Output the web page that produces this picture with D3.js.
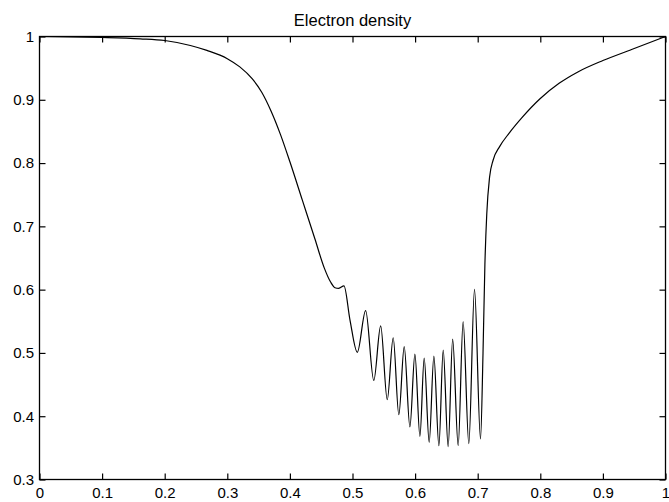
<!DOCTYPE html>
<html>
<head>
<meta charset="utf-8">
<script src="https://cdn.jsdelivr.net/npm/d3@7"></script>
<style>
  html, body { margin: 0; padding: 0; background: #fff; }
  #chart { width: 669px; height: 502px; }
  text { font-family: 'Liberation Sans', Arial, Helvetica, sans-serif; fill: #000; }
</style>
</head>
<body>
<div id="chart"></div>
<script>
// values
const position = [0, 0.05, 0.1, 0.161, 0.2, 0.241, 0.2674, 0.3, 0.32, 0.34, 0.355, 0.37, 0.385, 0.4, 0.42, 0.44, 0.455, 0.465, 0.472, 0.478, 0.4864, 0.496, 0.5077, 0.521, 0.534, 0.545, 0.5555, 0.565, 0.574, 0.5826, 0.5917, 0.5997, 0.6077, 0.6145, 0.6225, 0.630, 0.638, 0.6449, 0.6528, 0.660, 0.6688, 0.6767, 0.6858, 0.6949, 0.7045, 0.7085, 0.7115, 0.7145, 0.719, 0.7246, 0.735, 0.75, 0.77, 0.8, 0.83, 0.86, 0.9, 0.95, 1.0];
const density = [1.0, 0.9995, 0.9985, 0.9964, 0.9937, 0.9858, 0.978, 0.965, 0.952, 0.933, 0.912, 0.882, 0.845, 0.802, 0.741, 0.68, 0.634, 0.612, 0.603, 0.602, 0.606, 0.552, 0.501, 0.567, 0.4565, 0.5427, 0.426, 0.524, 0.4023, 0.51, 0.383, 0.498, 0.368, 0.4917, 0.3586, 0.495, 0.3534, 0.5044, 0.352, 0.5217, 0.3534, 0.5495, 0.3566, 0.6005, 0.364, 0.5, 0.64, 0.72, 0.778, 0.8045, 0.826, 0.847, 0.871, 0.902, 0.926, 0.944, 0.962, 0.981, 1.0];

const xTicks = [0, 0.1, 0.2, 0.3, 0.4, 0.5, 0.6, 0.7, 0.8, 0.9, 1];
const yTicks = [0.3, 0.4, 0.5, 0.6, 0.7, 0.8, 0.9, 1];
const xTickLabels = ['0', '0.1', '0.2', '0.3', '0.4', '0.5', '0.6', '0.7', '0.8', '0.9', '1'];
const yTickLabels = ['0.3', '0.4', '0.5', '0.6', '0.7', '0.8', '0.9', '1'];
const title = 'Electron density';

const Chart = {
  init() {
    this.wrapper = document.querySelector('#chart');
    this.data = position.map((x, i) => ({ x, y: density[i] }));

    this.setVar();
    this.create();
    this.scales();
    this.axis();
    this.createPath();
    this.createTitle();
  },

  setVar() {
    this.margin = {
      left: 39.5,
      top: 36.5,
      right: 3.5,
      bottom: 22.5,
    };
    this.width = 669 - this.margin.left - this.margin.right;
    this.height = 502 - this.margin.top - this.margin.bottom;
    this.tick = 6;
  },

  create() {
    this.svg = d3.select('#chart').append('svg')
      .attr('width', 669)
      .attr('height', 502);

    this.g = this.svg.append('g')
      .attr('transform', `translate(${this.margin.left} ${this.margin.top})`);
  },

  scales() {
    this.x = d3.scaleLinear()
      .domain([0, 1])
      .range([0, this.width]);

    this.y = d3.scaleLinear()
      .domain([0.3, 1])
      .range([this.height, 0]);
  },

  axis() {
    const xFmt = (d, i) => xTickLabels[i];
    const yFmt = (d, i) => yTickLabels[i];

    // ticks point inwards, labels only on bottom and left
    this.axCall = this.g.append('g')
      .attr('transform', `translate(0, ${this.height})`)
      .call(d3.axisBottom(this.x).tickValues(xTicks).tickFormat(xFmt)
        .tickSizeInner(-this.tick).tickSizeOuter(0).tickPadding(8));

    this.ayCall = this.g.append('g')
      .call(d3.axisLeft(this.y).tickValues(yTicks).tickFormat(yFmt)
        .tickSizeInner(-this.tick).tickSizeOuter(0).tickPadding(5.5));

    this.g.append('g')
      .call(d3.axisTop(this.x).tickValues(xTicks).tickFormat('')
        .tickSizeInner(-this.tick).tickSizeOuter(0));

    this.g.append('g')
      .attr('transform', `translate(${this.width}, 0)`)
      .call(d3.axisRight(this.y).tickValues(yTicks).tickFormat('')
        .tickSizeInner(-this.tick).tickSizeOuter(0));

    this.g.selectAll('.domain').remove();
    this.g.selectAll('.tick line')
      .attr('stroke', '#000')
      .attr('stroke-width', 1.2);
    this.g.selectAll('.tick text')
      .attr('font-size', '15px')
      .attr('font-family', "'Liberation Sans', Arial, sans-serif")
      .attr('fill', '#000');

    this.g.append('rect')
      .attr('x', 0)
      .attr('y', 0)
      .attr('width', this.width)
      .attr('height', this.height)
      .attr('fill', 'none')
      .attr('stroke', '#000')
      .attr('stroke-width', 1.3);
  },

  createPath() {
    this.line = d3.line()
      .x((d) => this.x(d.x))
      .y((d) => this.y(d.y))
      .curve(d3.curveMonotoneX);

    this.g.append('path')
      .attr('class', 'path-density')
      .attr('fill', 'none')
      .attr('stroke', '#000')
      .attr('stroke-width', 1.2)
      .attr('d', this.line(this.data));
  },

  createTitle() {
    this.g.append('text')
      .attr('x', this.width / 2)
      .attr('y', -10.5)
      .attr('text-anchor', 'middle')
      .attr('font-size', '16.5px')
      .text(title);
  },
};

Chart.init();
</script>
</body>
</html>
